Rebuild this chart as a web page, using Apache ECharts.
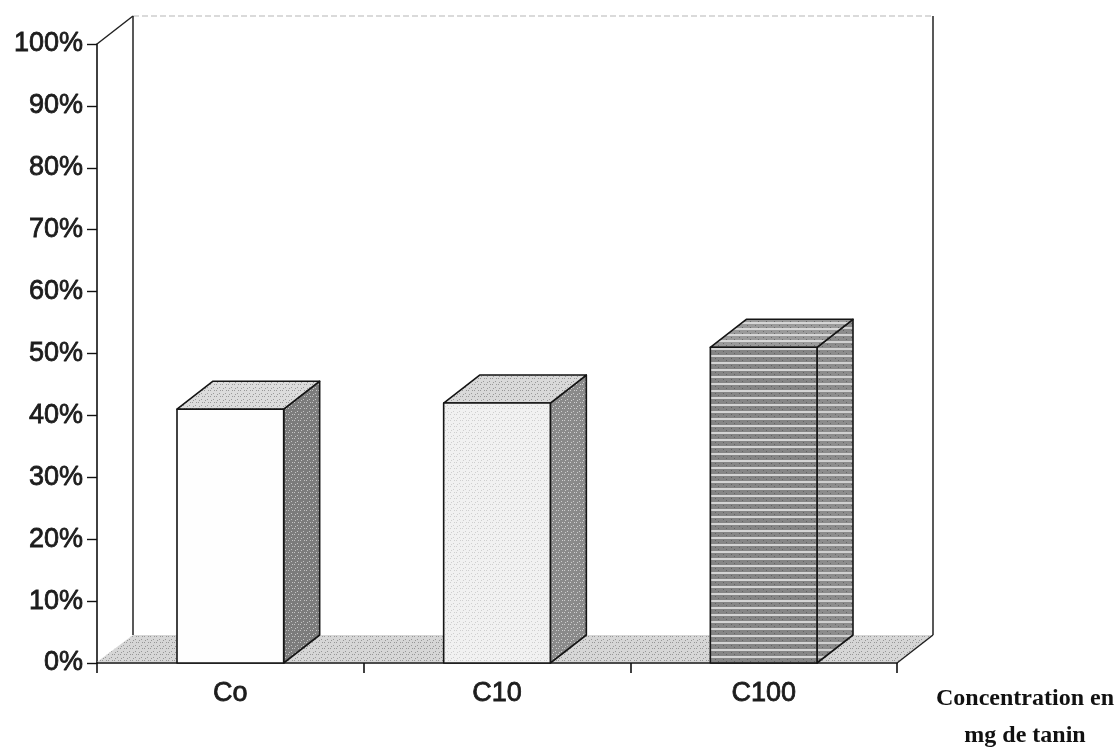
<!DOCTYPE html>
<html>
<head>
<meta charset="utf-8">
<script src="https://cdn.jsdelivr.net/npm/echarts@6/dist/echarts.min.js"></script>
<style>html,body{margin:0;padding:0;background:#fff}#c{width:1114px;height:749px}</style>
</head>
<body>
<div id="c"></div>
<script>
// ---- data ----
const categories = ['Co', 'C10', 'C100'];
const values = [41, 42, 51];
const yMin = 0, yMax = 100, yStep = 10;
const axisTitle = 'Concentration en\nmg de tanin';

// ---- style helpers ----
const DX = 36, DY = -28;
function pattern(w, h, draw) {
  const c = document.createElement('canvas');
  c.width = w; c.height = h;
  const g = c.getContext('2d');
  draw(g, w, h);
  return { image: c, repeat: 'repeat' };
}
function dots(bg, fg, step) {
  return pattern(step * 2, step * 2, (g, w, h) => {
    g.fillStyle = bg; g.fillRect(0, 0, w, h);
    g.fillStyle = fg;
    g.fillRect(0, 0, 1, 1); g.fillRect(step, step, 1, 1);
    g.fillRect(step + 1, 0, 1, 1); g.fillRect(1, step + 1, 1, 1);
  });
}
function stripes(dark, light, period, lw) {
  return pattern(8, period, (g, w, h) => {
    g.fillStyle = dark; g.fillRect(0, 0, w, h);
    g.fillStyle = light; g.fillRect(0, h - lw, w, lw);
    g.fillStyle = 'rgba(60,60,60,0.5)'; g.fillRect(3, 1, 1, 1); g.fillRect(6, 3, 1, 1);
  });
}
const faces = [
  { front: '#fefefe', side: dots('#7c7c7c', '#c4c4c4', 3), top: dots('#dcdcdc', '#9a9a9a', 3) },
  { front: dots('#f1f1f1', '#cfcfcf', 3), side: dots('#8a8a8a', '#cfcfcf', 3), top: dots('#d9d9d9', '#999999', 3) },
  { front: stripes('#858585', '#d4d4d4', 7, 2), side: stripes('#8c8c8c', '#d0d0d0', 7, 2), top: stripes('#9a9a9a', '#d6d6d6', 6, 2) }
];
const floorFill = dots('#d6d6d6', '#979797', 3);

function renderWall(params, api) {
  const cs = params.coordSys;
  const x0 = cs.x, x1 = cs.x + cs.width, yT = cs.y, yB = cs.y + cs.height;
  const ln = { stroke: '#222', lineWidth: 1.5, fill: null };
  return {
    type: 'group',
    children: [
      { type: 'polygon', shape: { points: [[x0, yB - 1], [x1, yB - 1], [x1 + DX, yB + DY], [x0 + DX, yB + DY]] },
        style: { fill: floorFill, stroke: null } },
      { type: 'line', shape: { x1: x0 + DX, y1: yT + DY, x2: x1 + DX, y2: yT + DY },
        style: { stroke: '#b5b5b5', lineWidth: 1.2, lineDash: [6, 3] } },
      { type: 'line', shape: { x1: x0 + DX, y1: yT + DY, x2: x0 + DX, y2: yB + DY }, style: ln },
      { type: 'line', shape: { x1: x1 + DX, y1: yT + DY, x2: x1 + DX, y2: yB + DY }, style: ln },
      { type: 'line', shape: { x1: x0, y1: yT, x2: x0 + DX, y2: yT + DY }, style: ln },
      { type: 'line', shape: { x1: x1, y1: yB, x2: x1 + DX, y2: yB + DY }, style: ln }
    ]
  };
}

function renderBar(params, api) {
  const i = api.value(0), v = api.value(1);
  const top = api.coord([i, v]);
  const base = api.coord([i, 0]);
  const w = api.size([1, 0])[0] * 0.4;
  const xa = top[0] - w / 2, xb = top[0] + w / 2;
  const yt = top[1], yb = base[1];
  const f = faces[i];
  const edge = { stroke: '#151515', lineWidth: 1.6, lineJoin: 'round' };
  return {
    type: 'group',
    children: [
      { type: 'polygon', shape: { points: [[xb, yb], [xb + DX, yb + DY], [xb + DX, yt + DY], [xb, yt]] },
        style: Object.assign({ fill: f.side }, edge) },
      { type: 'polygon', shape: { points: [[xa, yt], [xa + DX, yt + DY], [xb + DX, yt + DY], [xb, yt]] },
        style: Object.assign({ fill: f.top }, edge) },
      { type: 'rect', shape: { x: xa, y: yt, width: w, height: yb - yt },
        style: Object.assign({ fill: f.front }, edge) }
    ]
  };
}

const labelStyle = {
  fontFamily: 'Liberation Sans', fontWeight: 'normal', fontSize: 27, color: '#1c1c1c',
  textBorderColor: '#1c1c1c', textBorderWidth: 0.8
};

const chart = echarts.init(document.getElementById('c'), null, { renderer: 'canvas' });
chart.setOption({
  animation: false,
  backgroundColor: '#ffffff',
  grid: { left: 97, right: 217, top: 44, bottom: 86, containLabel: false, outerBoundsMode: 'none' },
  xAxis: {
    type: 'category',
    data: categories,
    boundaryGap: true,
    name: axisTitle,
    nameLocation: 'end',
    nameGap: 128,
    nameTextStyle: {
      fontFamily: 'Liberation Serif', fontWeight: 'bold', fontSize: 24, color: '#111',
      align: 'center', verticalAlign: 'top', lineHeight: 37, padding: [17, 0, 0, 0]
    },
    axisLine: { show: true, lineStyle: { color: '#111', width: 1.6 } },
    axisTick: { show: true, length: 10, alignWithLabel: false, lineStyle: { color: '#111', width: 1.6 } },
    axisLabel: Object.assign({ margin: 17 }, labelStyle),
    splitLine: { show: false }
  },
  yAxis: {
    type: 'value',
    min: yMin, max: yMax, interval: yStep,
    axisLine: { show: true, lineStyle: { color: '#111', width: 1.6 } },
    axisTick: { show: true, length: 10, lineStyle: { color: '#111', width: 1.4 } },
    axisLabel: Object.assign({ margin: 14, formatter: '{value}%' }, labelStyle),
    splitLine: { show: false }
  },
  series: [
    { type: 'custom', z: 1, silent: true, renderItem: renderWall, data: [[0, 0]], encode: { x: 0, y: 1 } },
    { type: 'custom', z: 3, renderItem: renderBar, data: values.map((v, i) => [i, v]), encode: { x: 0, y: 1 } }
  ]
});
</script>
</body>
</html>
